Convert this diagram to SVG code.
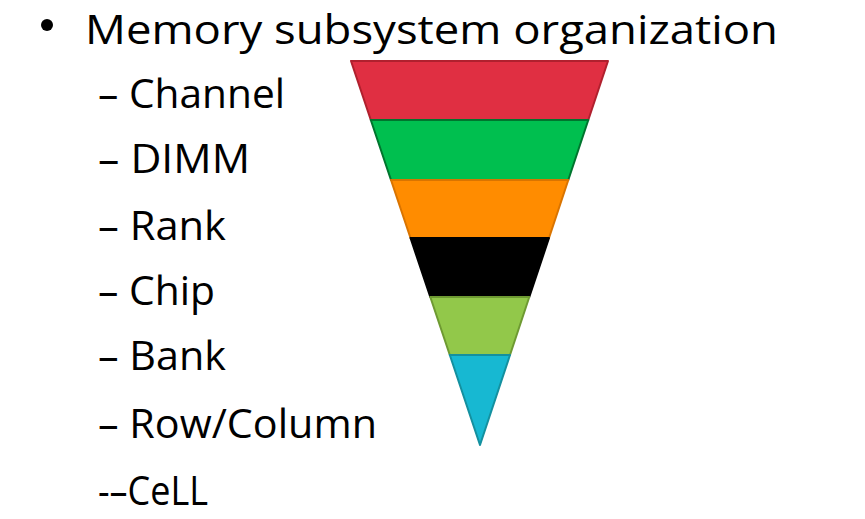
<svg xmlns="http://www.w3.org/2000/svg" width="865" height="519" viewBox="0 0 865 519">
<style>
text{font-family:"Open Sans","Liberation Sans",sans-serif;fill:#000;font-size:41px}
.b{stroke-width:2;stroke-linejoin:round}
</style>
<rect width="865" height="519" fill="#fff"/>
<g id="title">
<circle cx="47" cy="25" r="6" fill="#000"/>
<text x="85" y="44" textLength="693" lengthAdjust="spacingAndGlyphs" font-size="41">Memory subsystem organization</text>
</g>
<g id="list">
<text x="98" y="108" textLength="187" lengthAdjust="spacingAndGlyphs">– Channel</text>
<text x="98" y="173" textLength="152" lengthAdjust="spacingAndGlyphs">– DIMM</text>
<text x="98" y="240" textLength="128" lengthAdjust="spacingAndGlyphs">– Rank</text>
<text x="98" y="305" textLength="117" lengthAdjust="spacingAndGlyphs">– Chip</text>
<text x="98" y="370" textLength="128" lengthAdjust="spacingAndGlyphs">– Bank</text>
<text x="98" y="438" textLength="279" lengthAdjust="spacingAndGlyphs">– Row/Column</text>
<text x="98" y="505" textLength="110" lengthAdjust="spacingAndGlyphs">-–CeLL</text>
</g>
<g id="pyramid">
<polygon id="channel" class="b" points="351,61 608,61 588.3,120 370.8,120" fill="#E02F42" stroke="#B0202E"/>
<polygon id="dimm" class="b" points="370.8,120 588.3,120 568.3,180 391,180" fill="#00BF4F" stroke="#00752E"/>
<polygon id="rank" class="b" points="391,180 568.3,180 549,238 410.5,238" fill="#FF8C00" stroke="#D97400"/>
<polygon id="chip" class="b" points="410.5,238 549,238 529.3,297 430.3,297" fill="#000" stroke="#000"/>
<polygon id="bank" class="b" points="430.3,297 529.3,297 510,355 449.8,355" fill="#92C84A" stroke="#6E9A32"/>
<polygon id="rowcol" class="b" points="449.8,355 510,355 480,445" fill="#17B8D2" stroke="#14909F"/>
</g>
</svg>
